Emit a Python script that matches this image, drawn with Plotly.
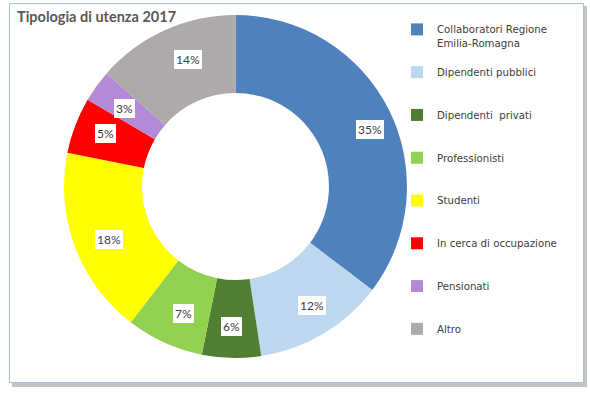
import math
import plotly.graph_objects as go

categories = ["Collaboratori Regione<br>Emilia-Romagna", "Dipendenti pubblici", "Dipendenti  privati",
              "Professionisti", "Studenti", "In cerca di occupazione", "Pensionati", "Altro"]
values = [35.3, 12.3, 5.55, 7.3, 17.7, 5.3, 3.0, 13.55]
colors = ["#4F81BD", "#BDD7EE", "#507E32", "#92D050", "#FFFF00", "#FF0000", "#B48AD8", "#AEAAAA"]
title_text = "Tipologia di utenza 2017"

W, H = 590, 395
FONT = "Lato"
LEG_FONT = "DejaVu Sans"

# pie geometry in pixels
cx, cy, R = 235.5, 186.5, 171.5
hole = 0.545

legend_labels = []
for c in categories:
    if "<br>" in c:
        legend_labels.append("&#160;<br>" + c)
    else:
        legend_labels.append("&#160;<br>" + c + "<br>&#160;")

fig = go.Figure()
fig.add_trace(go.Pie(
    labels=legend_labels,
    values=values,
    hole=hole,
    sort=False,
    direction="clockwise",
    rotation=0,
    marker=dict(colors=colors, line=dict(width=0)),
    textinfo="none",
    hoverinfo="label+percent",
    domain=dict(x=[(cx - R) / W, (cx + R) / W], y=[1 - (cy + R) / H, 1 - (cy - R) / H]),
    showlegend=True,
))

# percentage labels in white boxes, placed from the data
total = sum(values)
cum = 0.0
r_lab = 150
for v in values:
    mid = (cum + v / 2) / total * 2 * math.pi
    cum += v
    px = cx + r_lab * math.sin(mid)
    py = cy - r_lab * math.cos(mid)
    fig.add_annotation(
        x=px / W, y=1 - py / H, xref="paper", yref="paper",
        text=f"{round(v / total * 100)}%", showarrow=False,
        font=dict(family=FONT, size=12, color="#404040"),
        bgcolor="white", bordercolor="white", borderwidth=0, borderpad=2,
    )

# chart frame with shadow
fig.add_shape(type="rect", xref="paper", yref="paper",
              x0=12 / W, x1=587 / W, y0=1 - 387 / H, y1=1 - 6 / H,
              fillcolor="#C4C4C4", line=dict(width=0), layer="below")
fig.add_shape(type="rect", xref="paper", yref="paper",
              x0=9.5 / W, x1=583.5 / W, y0=1 - 382.5 / H, y1=1 - 3.5 / H,
              fillcolor="white", line=dict(color="#9DC3E6", width=1), layer="below")

fig.update_layout(
    width=W, height=H,
    margin=dict(l=0, r=0, t=0, b=0),
    paper_bgcolor="white",
    plot_bgcolor="white",
    font=dict(family=FONT, color="#404040"),
    title=dict(text=f"<b>{title_text}</b>", x=17 / W, xanchor="left", y=1 - 17 / H, yanchor="middle",
               font=dict(family=FONT, size=14.5, color="#595959")),
    legend=dict(x=397 / W, xanchor="left", y=1 - 3 / H, yanchor="top",
                font=dict(family=LEG_FONT, size=10.2, color="#404040"),
                itemwidth=30, bgcolor="rgba(0,0,0,0)"),
)

fig.write_html("out.html", config={"displayModeBar": False},
               post_script="document.body.style.margin='0';")
